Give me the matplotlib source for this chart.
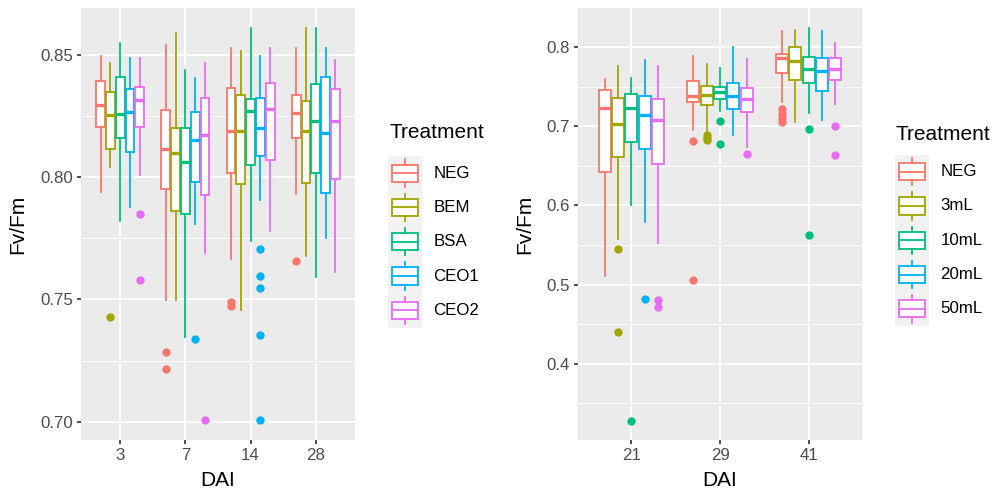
import matplotlib
matplotlib.use("Agg")
import matplotlib.pyplot as plt
from matplotlib.patches import Rectangle
from matplotlib.lines import Line2D

plt.rcParams['font.family'] = ['Liberation Sans', 'DejaVu Sans']

# ---------------- data ----------------
colors = ["#F8766D", "#A3A500", "#00BF7D", "#00B0F6", "#E76BF3"]

# Left panel: rows = DAI, cols = treatment
left_days = ["3", "7", "14", "28"]
left_treat = ["NEG", "BEM", "BSA", "CEO1", "CEO2"]
left_whislo = [[0.794, 0.804, 0.782, 0.7878, 0.801],
               [0.7497, 0.7497, 0.7348, 0.781, 0.7688],
               [0.7667, 0.7456, 0.7739, 0.7908, 0.7778],
               [0.7929, 0.7678, 0.759, 0.7749, 0.761]]
left_q1 = [[0.8205, 0.8116, 0.8159, 0.8102, 0.8206],
           [0.7951, 0.7863, 0.785, 0.7981, 0.7925],
           [0.8016, 0.7973, 0.8047, 0.8085, 0.8068],
           [0.8159, 0.7977, 0.8015, 0.7933, 0.7993]]
left_med = [[0.8295, 0.8254, 0.8258, 0.8265, 0.8315],
            [0.8113, 0.8098, 0.806, 0.815, 0.8173],
            [0.8187, 0.8187, 0.8268, 0.8201, 0.8279],
            [0.8262, 0.8187, 0.8228, 0.8179, 0.8227]]
left_q3 = [[0.839, 0.8349, 0.8408, 0.836, 0.8368],
           [0.8272, 0.8201, 0.8198, 0.8264, 0.8321],
           [0.8363, 0.8333, 0.8318, 0.8321, 0.8382],
           [0.8333, 0.8312, 0.8381, 0.8408, 0.8359]]
left_whishi = [[0.8496, 0.8467, 0.8548, 0.8486, 0.8486],
               [0.8537, 0.8588, 0.8438, 0.8406, 0.8467],
               [0.8526, 0.8516, 0.8607, 0.8496, 0.8526],
               [0.8526, 0.8607, 0.8607, 0.8526, 0.8476]]
left_fliers = [[[], [0.743], [], [], [0.785, 0.758]],
               [[0.7286, 0.7216], [], [], [0.7337], [0.7007]],
               [[0.7488, 0.7475], [], [], [0.7706, 0.7596, 0.7546, 0.7356, 0.7007], []],
               [[0.7657], [], [], [], []]]
left_yticks = [0.70, 0.75, 0.80, 0.85]
left_yticklabels = ["0.70", "0.75", "0.80", "0.85"]
left_yminor = [0.725, 0.775, 0.825]

# Right panel
right_days = ["21", "29", "41"]
right_treat = ["NEG", "3mL", "10mL", "20mL", "50mL"]
right_whislo = [[0.511, 0.558, 0.600, 0.579, 0.553],
                [0.696, 0.693, 0.720, 0.6885, 0.674],
                [0.731, 0.705, 0.7175, 0.708, 0.728]]
right_q1 = [[0.642, 0.661, 0.680, 0.671, 0.653],
            [0.731, 0.727, 0.735, 0.722, 0.718],
            [0.767, 0.759, 0.755, 0.745, 0.759]]
right_med = [[0.7235, 0.703, 0.7235, 0.715, 0.708],
             [0.738, 0.740, 0.744, 0.739, 0.734],
             [0.787, 0.783, 0.772, 0.770, 0.772]]
right_q3 = [[0.746, 0.7356, 0.741, 0.738, 0.734],
            [0.757, 0.751, 0.7495, 0.755, 0.749],
            [0.792, 0.801, 0.788, 0.786, 0.787]]
right_whishi = [[0.760, 0.7765, 0.761, 0.784, 0.776],
                [0.789, 0.779, 0.7735, 0.800, 0.785],
                [0.821, 0.822, 0.824, 0.820, 0.805]]
right_fliers = [[[], [0.545, 0.440], [0.328], [0.482], [0.481, 0.471]],
                [[0.681, 0.506], [0.689, 0.685, 0.683], [0.707, 0.678], [], [0.665]],
                [[0.722, 0.716, 0.711, 0.706], [], [0.697, 0.563], [], [0.700, 0.664]]]
right_yticks = [0.4, 0.5, 0.6, 0.7, 0.8]
right_yticklabels = ["0.4", "0.5", "0.6", "0.7", "0.8"]
right_yminor = [0.35, 0.45, 0.55, 0.65, 0.75]

# ---------------- figure ----------------
W, H = 1000, 492
fig = plt.figure(figsize=(W / 100, H / 100), dpi=100)


def px_axes(x0, x1, y0, y1):
    return fig.add_axes([x0 / W, 1 - y1 / H, (x1 - x0) / W, (y1 - y0) / H])


TICK_FS = 12.2
TITLE_FS = 15.0
LW = 1.3


def draw_panel(ax, days, whislo, q1, med, q3, whishi, fliers, ylim,
               yticks, yticklabels, yminor, ylabel_x):
    ax.set_facecolor("#EBEBEB")
    for s in ax.spines.values():
        s.set_visible(False)
    n = len(days)
    step = 0.15
    for j in range(5):
        stats = []
        for i in range(n):
            stats.append(dict(whislo=whislo[i][j], q1=q1[i][j], med=med[i][j],
                              q3=q3[i][j], whishi=whishi[i][j],
                              fliers=fliers[i][j]))
        pos = [i + 1 + (j - 2) * step for i in range(n)]
        c = colors[j]
        ax.bxp(stats, positions=pos, widths=0.135, patch_artist=True,
               showcaps=False, manage_ticks=False,
               boxprops=dict(facecolor="white", edgecolor=c, linewidth=LW),
               whiskerprops=dict(color=c, linewidth=LW),
               medianprops=dict(color=c, linewidth=2.4, solid_capstyle="butt"),
               flierprops=dict(marker="o", markerfacecolor=c,
                               markeredgecolor="none", markersize=6.0))
    ax.set_xlim(0.4, n + 0.6)
    ax.set_ylim(*ylim)
    ax.set_xticks(range(1, n + 1))
    ax.set_xticklabels(days)
    ax.set_yticks(yticks)
    ax.set_yticklabels(yticklabels)
    ax.set_yticks(yminor, minor=True)
    ax.set_axisbelow(True)
    ax.grid(True, which="major", color="white", linewidth=1.3)
    ax.grid(True, which="minor", axis="y", color="white", linewidth=0.65)
    ax.tick_params(which="major", length=3.2, width=1.2, color="#333333",
                   labelcolor="#4D4D4D", labelsize=TICK_FS, pad=2.5)
    ax.tick_params(which="minor", length=0)
    ax.set_xlabel("DAI", fontsize=TITLE_FS, va="center")
    ax.xaxis.set_label_coords(0.5, (440 - 480) / 432)
    ax.set_ylabel("Fv/Fm", fontsize=TITLE_FS, va="center", ha="center")
    ax.yaxis.set_label_coords(ylabel_x, 0.5)


axL = px_axes(81, 355, 8, 440)
draw_panel(axL, left_days, left_whislo, left_q1, left_med, left_q3, left_whishi,
           left_fliers, (0.6926, 0.869), left_yticks, left_yticklabels,
           left_yminor, (17.3 - 81) / 274)

axR = px_axes(578, 862, 8, 440)
draw_panel(axR, right_days, right_whislo, right_q1, right_med, right_q3,
           right_whishi, right_fliers, (0.3034, 0.8497), right_yticks,
           right_yticklabels, right_yminor, (525 - 578) / 284)

# ---------------- legends ----------------
ov = fig.add_axes([0, 0, 1, 1], facecolor="none")
ov.set_xlim(0, W)
ov.set_ylim(H, 0)
ov.axis("off")


def draw_legend(x0, top, labels, title_y):
    ks = 34.3
    kw = 34.0
    ov.text(x0 + 1, title_y, "Treatment", fontsize=TITLE_FS, ha="left",
            va="center", color="black")
    for k, (lab, c) in enumerate(zip(labels, colors)):
        y0 = top + k * ks
        ov.add_patch(Rectangle((x0, y0), kw, ks, facecolor="#F2F2F2",
                               edgecolor="none"))
        bx0 = x0 + 0.125 * kw
        bx1 = x0 + 0.875 * kw
        by0 = y0 + 0.25 * ks
        by1 = y0 + 0.75 * ks
        ov.add_patch(Rectangle((bx0, by0), bx1 - bx0, by1 - by0,
                               facecolor="white", edgecolor=c, linewidth=LW))
        cx = x0 + kw / 2
        ov.add_line(Line2D([cx, cx], [y0 + 0.1 * ks, by0], color=c, lw=LW))
        ov.add_line(Line2D([cx, cx], [by1, y0 + 0.9 * ks], color=c, lw=LW))
        ov.add_line(Line2D([bx0, bx1], [y0 + 0.5 * ks] * 2, color=c, lw=LW))
        ov.text(x0 + kw + 11.5, y0 + ks / 2, lab, fontsize=TICK_FS,
                ha="left", va="center", color="black")


draw_legend(388, 156, left_treat, 133)
draw_legend(895, 154.5, right_treat, 135)

fig.savefig("out.png", dpi=100)
